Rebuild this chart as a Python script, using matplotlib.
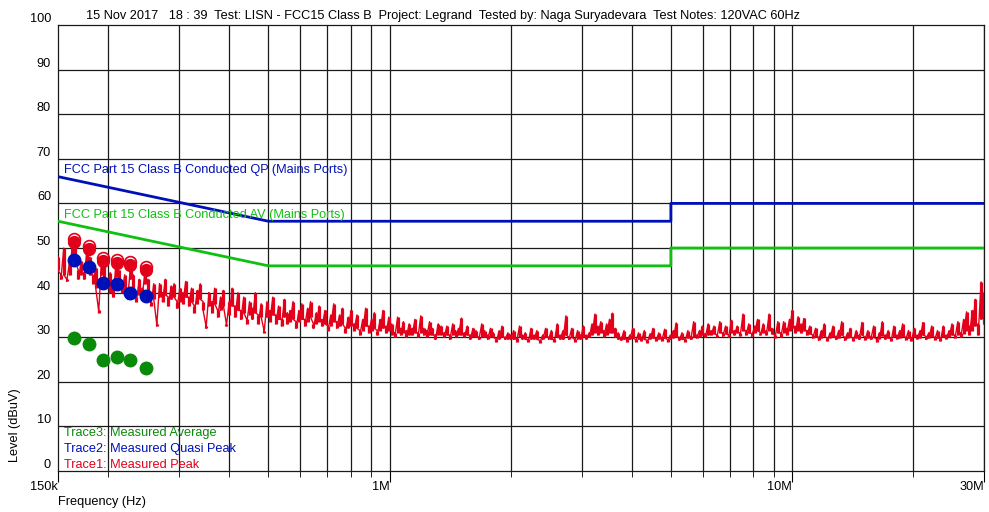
import numpy as np
import matplotlib
matplotlib.use("Agg")
import matplotlib.pyplot as plt

plt.rcParams['font.family'] = ['Liberation Sans', 'DejaVu Sans']

# limit lines (freq in Hz, level in dBuV)
qp_freq = [150e3, 500e3, 5e6, 5e6, 30e6]
qp_level = [66, 56, 56, 60, 60]
av_freq = [150e3, 500e3, 5e6, 5e6, 30e6]
av_level = [56, 46, 46, 50, 50]

# measured points
meas_freq = [164e3, 179e3, 194e3, 210e3, 226e3, 248e3]
peak_vals = [51.4, 49.8, 47.0, 46.6, 46.1, 45.0]
qp_vals = [47.3, 45.8, 42.2, 41.9, 39.8, 39.3]
av_vals = [29.8, 28.4, 24.9, 25.5, 24.9, 23.2]

# peak sweep, max and min per display bin
# (log spaced sweep bins 150k..30M)
trace1_hi = [
    48, 44, 50, 43, 47, 51.3,
    50.5, 45, 47, 44.5, 49.8,
    48, 44, 45.5, 36, 47,
    46, 43, 44.5, 41, 46.6,
    45, 42, 44, 40, 46.1,
    44, 39, 43, 41, 45,
    43, 38, 42, 33, 42,
    40, 43, 39, 41.5, 42,
    38, 41, 40, 42.5, 39,
    41, 37, 40.5, 42, 38,
    32.5, 40, 38, 41, 36,
    39, 40.5, 33, 38, 41,
    37, 40, 36, 39, 34,
    38, 36.5, 40, 35, 37.5,
    31.5, 38, 36, 39, 35,
    37, 34, 38.5, 35.5, 36,
    38, 33.5, 36, 37.5, 34,
    36.5, 38, 33, 35.5, 37,
    34, 36, 32.5, 35, 37.5,
    33.5, 35, 36.5, 32, 34.5,
    36, 33, 35, 31.5, 34,
    36.5, 32.5, 34, 35.5, 31.5,
    34, 36, 32.5, 34.5,
    33, 31, 34.5, 32, 33.5, 31.5,
    33, 32, 34, 31, 34.8, 32,
    31.5, 33.5, 32, 30.5, 33, 32.5,
    31, 32.5, 30.5, 33, 31.5, 32,
    34.3, 31, 32.5, 30.5, 32, 31.5,
    30, 33, 31.5, 30.5, 32, 31,
    29.5, 31.5, 32.5, 30, 31, 30.5,
    31.5, 29.8, 32.5, 30.5, 31, 29.5,
    32, 30.5, 31.5, 29.3, 30.5, 32,
    30, 31.5, 29.5, 33, 30.5, 31.5, 34.8, 30,
    32, 29.5, 31.5, 30.5, 32.5, 30.5,
    31, 33, 35.2, 32.5, 33.5, 31.5,
    33, 34, 35.4, 32, 31, 30,
    31.5, 29.8, 30.5, 32, 29.5, 31,
    30, 31.5, 29.3, 30.8, 32, 29.8,
    31, 30, 31.8, 29.5, 30.5, 31.5,
    33.2, 30, 31, 29.6, 31.5, 30.2,
    33.5, 30.5, 31.5, 32.5, 30.8, 33,
    31.5, 32.5, 30.5, 33.5, 31, 32.5,
    30.5, 33.8, 31.5, 32.5, 31, 35.2,
    31.5, 33, 30.8, 32.5, 34, 31,
    33, 31.5, 35.2, 32, 30.5, 33.5,
    31, 33.5, 32, 34, 36.1, 32.5,
    34.6, 33, 34.2, 31.5, 32.5, 30.5,
    32, 30, 31.5, 33, 29.8, 31,
    32.5, 30.2, 31.5, 33.5, 30, 31,
    32, 29.8, 31.5, 30.5, 33.3, 30,
    31.5, 30.2, 32.5, 29.6, 31, 33.5,
    30.5, 31.5, 29.8, 32.5, 30.5, 31.5,
    33, 30, 31.5, 29.8, 32, 30.5,
    31.5, 33.3, 30.2, 31, 32.5, 30,
    31.5, 29.8, 32.5, 30.5, 31.5, 33,
    30.5, 33.5, 31, 34, 35.7,
    32.5, 36, 38.5, 33, 42.4, 40,
]
trace1_lo = [
    45, 43, 44, 42.5, 44, 48,
    47, 43, 44, 43, 46,
    44, 42, 41, 35.5, 44,
    43, 41, 40, 39, 43.5,
    42, 40, 40.5, 38.5, 43,
    41, 38, 39.5, 39, 42,
    39.5, 37, 38.5, 32.5, 39,
    38, 39.5, 37, 38.5, 39,
    36.5, 38, 37.5, 39, 37,
    38, 35.5, 37.5, 38.5, 36,
    32, 37, 35.5, 37.5, 34.5,
    36, 37, 32.5, 35, 37,
    34.5, 36, 34, 35.5, 33,
    35, 34, 35.5, 33, 34.5,
    31, 34.5, 33.5, 35, 33,
    34, 32.5, 34.5, 33, 33.5,
    34, 32, 33.5, 34, 32.5,
    33.5, 34.5, 32, 33, 33.5,
    32.5, 33, 31.5, 32.5, 33.5,
    32, 32.5, 33, 31, 32,
    32.5, 31.5, 32, 30.5, 31.5,
    32.5, 31, 31.5, 32, 30.5,
    31.5, 32, 31, 31.5,
    30.5, 30, 31, 30.5, 31, 30,
    30.5, 30.5, 31, 30, 31, 30.5,
    30, 30.5, 30.5, 29.5, 30.5, 30.5,
    30, 30.5, 29.5, 30.5, 30, 30.5,
    30.5, 30, 30.5, 29.5, 30, 30,
    29.5, 30, 30, 29.5, 30, 30,
    29, 29.5, 30, 29.5, 29.5, 29.5,
    29.5, 29, 30, 29.5, 29.5, 29,
    29.5, 29.5, 29.5, 28.8, 29.5, 30,
    29.5, 29.5, 29, 30, 29.5, 29.5, 30.5, 29.5,
    30, 29, 29.5, 29.5, 30, 29.5,
    30, 30.5, 31, 30.5, 31, 30,
    30.5, 31, 31, 30, 29.5, 29.3,
    29.5, 29, 29.5, 29.8, 29, 29.5,
    29.2, 29.5, 28.8, 29.5, 29.8, 29.2,
    29.5, 29.2, 29.8, 29, 29.5, 29.8,
    30, 29.3, 29.5, 29, 29.8, 29.5,
    30, 29.8, 30, 30.5, 30, 30.5,
    30.5, 30.8, 30, 31, 30.2, 30.8,
    30, 31, 30.5, 31, 30.3, 31.5,
    30.5, 31, 30.2, 31, 31.5, 30.5,
    31, 30.5, 31.5, 30.8, 29.8, 31,
    30, 31, 30.5, 31.5, 32, 31,
    31.5, 31, 31.5, 30.5, 30.8, 29.8,
    30, 29.3, 29.8, 30.2, 29.2, 29.8,
    30, 29.5, 29.8, 30.5, 29.3, 29.8,
    30, 29.2, 29.8, 29.5, 30.5, 29.4,
    29.8, 29.5, 30, 29, 29.6, 30.3,
    29.5, 29.8, 29.2, 30, 29.6, 29.8,
    30.2, 29.4, 29.8, 29.2, 30, 29.6,
    29.8, 30.5, 29.5, 29.8, 30.2, 29.4,
    29.8, 29.2, 30, 29.6, 30, 30.5,
    29.8, 30.5, 30, 30.8, 31.5,
    30.5, 31.5, 32.5, 30.5, 34, 33,
]
trace1_freq = np.geomspace(150e3, 30e6, len(trace1_hi))

grid_freqs = [200e3, 300e3, 400e3, 500e3, 600e3, 700e3, 800e3, 900e3,
              1e6, 2e6, 3e6, 4e6, 5e6, 6e6, 7e6, 8e6, 9e6, 10e6, 20e6, 30e6]
xtick_freqs = [150e3, 1e6, 10e6, 30e6]
xtick_labels = ['150k', '1M', '10M', '30M']

RED = '#e2001a'
BLUE = '#0010b8'
LGREEN = '#10c010'
DGREEN = '#0a8a0a'
FS = 9.2

fig = plt.figure(figsize=(9.89, 5.12), dpi=100)
ax = fig.add_axes([58 / 989, 1 - 471 / 512, 926 / 989, 446 / 512])
ax.set_xscale('log')
ax.set_xlim(150e3, 30e6)
ax.set_ylim(0, 100)

for f in grid_freqs:
    ax.axvline(f, color='#1a1a1a', lw=0.9, zorder=1)
for v in range(10, 100, 10):
    ax.axhline(v, color='#1a1a1a', lw=0.9, zorder=1)

ax.plot(qp_freq, qp_level, color=BLUE, lw=2, zorder=3)
ax.plot(av_freq, av_level, color=LGREEN, lw=2, zorder=3)

# min/max rendering of the dense sweep
zz_f = np.repeat(trace1_freq, 2)
zz_v = np.column_stack([trace1_hi, trace1_lo]).ravel()
ax.vlines(trace1_freq, trace1_lo, trace1_hi, color=RED, lw=2.3, zorder=4)
ax.plot(zz_f, zz_v, color=RED, lw=1.0, zorder=4)

ax.plot(meas_freq, [p + 0.7 for p in peak_vals], 'o', ms=8.5, mfc='none',
        mec=RED, mew=1.2, zorder=5)
ax.plot(meas_freq, peak_vals, 'o', ms=8.5, color=RED, zorder=5)
ax.plot(meas_freq, qp_vals, 'o', ms=9, color=BLUE, zorder=6)
ax.plot(meas_freq, av_vals, 'o', ms=9, color=DGREEN, zorder=6)

ax.text(155e3, 67.5, 'FCC Part 15 Class B Conducted QP (Mains Ports)',
        color=BLUE, fontsize=FS, va='center', zorder=7)
ax.text(155e3, 57.5, 'FCC Part 15 Class B Conducted AV (Mains Ports)',
        color=LGREEN, fontsize=FS, va='center', zorder=7)

ax.text(155e3, 8.5, 'Trace3: Measured Average', color=DGREEN, fontsize=FS,
        va='center', zorder=7)
ax.text(155e3, 4.9, 'Trace2: Measured Quasi Peak', color=BLUE, fontsize=FS,
        va='center', zorder=7)
ax.text(155e3, 1.3, 'Trace1: Measured Peak', color=RED, fontsize=FS,
        va='center', zorder=7)

# ticks
ax.set_yticks(range(0, 101, 10))
ax.set_yticklabels([str(v) for v in range(0, 101, 10)], fontsize=FS)
for lab in ax.get_yticklabels():
    lab.set_va('bottom')
ax.tick_params(axis='y', length=0, pad=5)

ax.set_xticks(xtick_freqs)
ax.set_xticklabels(xtick_labels, fontsize=FS)
for lab in ax.get_xticklabels():
    lab.set_ha('right')
ax.set_xticks([f for f in grid_freqs if f not in xtick_freqs], minor=True)
ax.xaxis.set_minor_formatter(matplotlib.ticker.NullFormatter())
ax.tick_params(axis='x', which='major', length=8, direction='out', pad=-1)
ax.tick_params(axis='x', which='minor', length=4, direction='out')
for s in ax.spines.values():
    s.set_color('#1a1a1a')
    s.set_linewidth(0.9)

fig.text(86 / 989, 1 - 16 / 512,
         '15 Nov 2017   18 : 39  Test: LISN - FCC15 Class B  Project: Legrand  '
         'Tested by: Naga Suryadevara  Test Notes: 120VAC 60Hz',
         fontsize=FS, va='center', ha='left')
fig.text(15 / 989, 1 - 462 / 512, 'Level (dBuV)', rotation=90, fontsize=FS,
         ha='center', va='bottom')
fig.text(58 / 989, 1 - 502 / 512, 'Frequency (Hz)', fontsize=FS,
         ha='left', va='center')

fig.savefig('out.png', dpi=100)
